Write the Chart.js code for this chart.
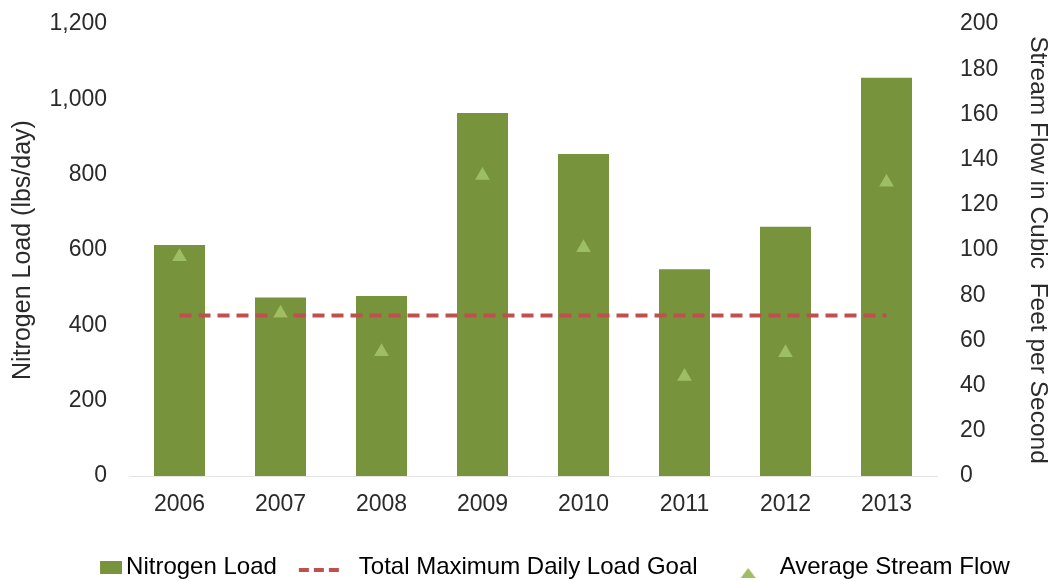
<!DOCTYPE html>
<html><head><meta charset="utf-8">
<script src="https://cdn.jsdelivr.net/npm/chart.js@4.4.1/dist/chart.umd.min.js"></script>
<style>html,body{margin:0;padding:0;background:#fff}#wrap{width:1054px;height:581px}</style>
</head><body><div id="wrap"><canvas id="c" width="1054" height="581"></canvas></div>
<script>
const years = ['2006', '2007', '2008', '2009', '2010', '2011', '2012', '2013'];
const nitrogenLoad = [613, 474, 478, 964, 855, 549, 662, 1057];
const tmdlGoal = [426, 426, 426, 426, 426, 426, 426, 426];
const streamFlow = [97, 72, 55, 133, 101, 44, 54.5, 130];
const leftTicks = [0, 200, 400, 600, 800, 1000, 1200];
const rightTicks = [0, 20, 40, 60, 80, 100, 120, 140, 160, 180, 200];
const seriesNames = ['Nitrogen Load', 'Total Maximum Daily Load Goal', 'Average Stream Flow'];
const leftTitle = 'Nitrogen Load (lbs/day)';
const rightTitle = 'Stream Flow in Cubic  Feet per Second';

const BAR = '#77933C', LINE = '#BF504D', TRI = '#9DBE63', TEXT = '#2a2a2a';
const FONT = "'Liberation Sans', Arial, sans-serif";

function makeCanvas(w, h, draw) {
  const c = document.createElement('canvas');
  c.width = w; c.height = h;
  draw(c.getContext('2d'));
  return c;
}
const legSquare = makeCanvas(86, 13, g => { g.fillStyle = BAR; g.fillRect(64, 0, 22, 13); });
const legDash = makeCanvas(74, 10, g => { g.fillStyle = LINE; [24, 39, 54].forEach(x => g.fillRect(x, 6, 10, 4)); });
const legTri = makeCanvas(46, 22, g => {
  g.fillStyle = TRI; g.beginPath(); g.moveTo(31, 22); g.lineTo(46, 22); g.lineTo(38.5, 12); g.closePath(); g.fill();
});
const legendImgs = [legSquare, legDash, legTri];

function vAxisFit(width) {
  return s => { s.width = width; s.paddingTop = 0; s.paddingBottom = 0; };
}

new Chart(document.getElementById('c'), {
  data: {
    labels: years,
    datasets: [
      { type: 'bar', label: seriesNames[0], data: nitrogenLoad, backgroundColor: BAR, yAxisID: 'y',
        barPercentage: 1, categoryPercentage: 0.505, order: 3 },
      { type: 'line', label: seriesNames[1], data: tmdlGoal, borderColor: LINE, borderWidth: 4,
        borderDash: [12, 7], pointRadius: 0, fill: false, yAxisID: 'y', order: 2 },
      { type: 'line', label: seriesNames[2], data: streamFlow, showLine: false, pointStyle: 'triangle',
        pointRadius: 8.5, pointHoverRadius: 8.5, pointBackgroundColor: TRI, pointBorderWidth: 0,
        borderColor: TRI, yAxisID: 'y1', order: 1 }
    ]
  },
  options: {
    responsive: false,
    animation: false,
    devicePixelRatio: 1,
    layout: { padding: { top: 24, left: 0, right: 0, bottom: -8 } },
    plugins: {
      tooltip: { enabled: false },
      legend: {
        position: 'bottom',
        labels: {
          usePointStyle: true,
          pointStyleWidth: 70,
          padding: 0,
          color: TEXT,
          font: { family: FONT, size: 24 },
          generateLabels: (chart) => seriesNames.map((name, i) => ({
            text: name, pointStyle: legendImgs[i], datasetIndex: i,
            fillStyle: 'rgba(0,0,0,0)', strokeStyle: 'rgba(0,0,0,0)', lineWidth: 0, hidden: false
          }))
        }
      }
    },
    scales: {
      x: {
        grid: { display: false, drawTicks: false },
        border: { display: true, color: '#E4E4E4', width: 1 },
        ticks: { color: TEXT, font: { family: FONT, size: 23 }, padding: 15, maxRotation: 0 },
        afterFit: s => { s.height = 79; }
      },
      y: {
        position: 'left',
        min: leftTicks[0], max: leftTicks[leftTicks.length - 1],
        afterBuildTicks: s => { s.ticks = leftTicks.map(v => ({ value: v })); },
        grid: { display: false, drawTicks: false },
        border: { display: false },
        ticks: { color: TEXT, font: { family: FONT, size: 23 }, padding: 22,
          callback: v => v.toLocaleString('en-US') },
        title: { display: true, text: leftTitle, color: TEXT, font: { family: FONT, size: 25 },
          padding: { top: 8, bottom: 0 } },
        afterFit: vAxisFit(129)
      },
      y1: {
        position: 'right',
        min: rightTicks[0], max: rightTicks[rightTicks.length - 1],
        afterBuildTicks: s => { s.ticks = rightTicks.map(v => ({ value: v })); },
        grid: { display: false, drawTicks: false },
        border: { display: false },
        ticks: { color: TEXT, font: { family: FONT, size: 23 }, padding: 23 },
        title: { display: true, text: rightTitle, color: TEXT, font: { family: FONT, size: 24.5 },
          padding: { top: 2, bottom: 0 } },
        afterFit: vAxisFit(117)
      }
    }
  }
});
</script></body></html>
